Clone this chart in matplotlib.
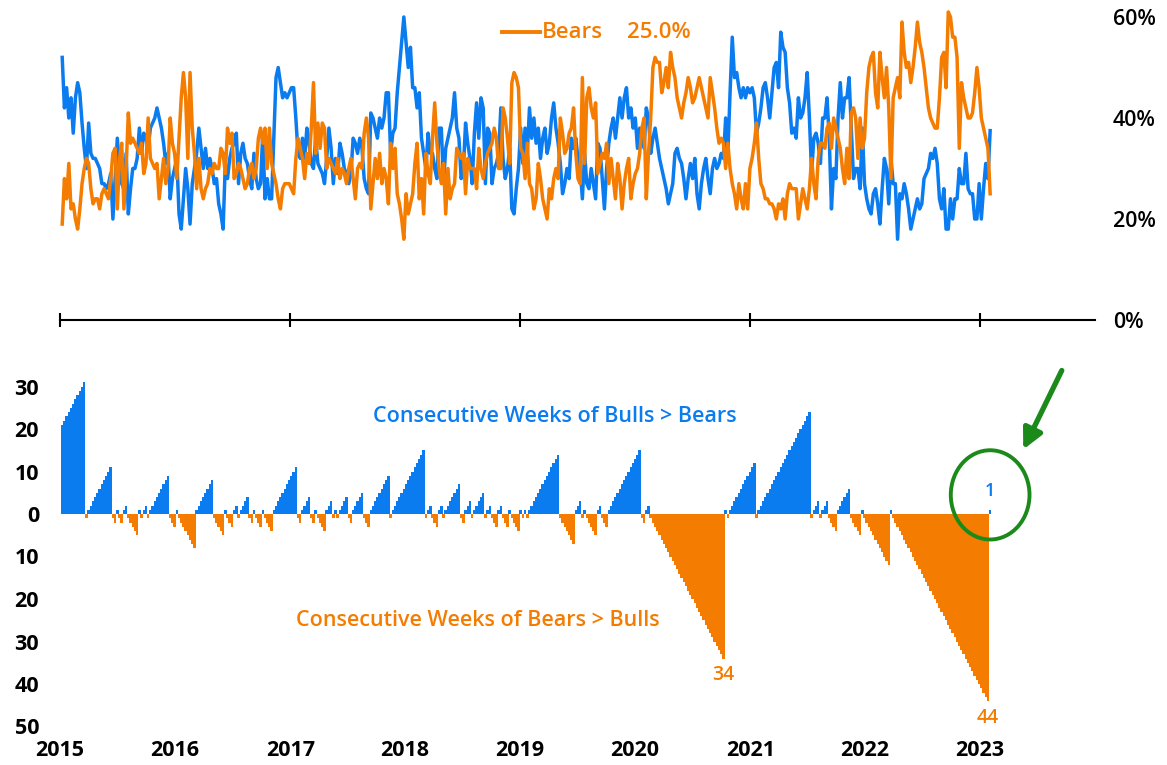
import datetime as dt
import numpy as np
import pandas as pd
import matplotlib
matplotlib.use("Agg")
import matplotlib.pyplot as plt
import matplotlib.dates as mdates
from matplotlib.lines import Line2D
from matplotlib.patches import Ellipse
from matplotlib.ticker import FuncFormatter

plt.rcParams['font.family'] = ['Open Sans', 'DejaVu Sans']

BLUE = '#0a7cf0'
ORANGE = '#f47c00'
GREEN = '#1b8a1b'

# AAII sentiment, weekly readings (%) from Jan 2015 to Feb 2023
bulls = [
    52, 42, 46, 40, 44, 37, 44, 47, 45, 39, 34, 30, 39, 33, 32, 32, 31, 30, 27, 27, 26, 27, 29, 20, 28, 36,
    30, 27, 26, 33, 21, 26, 30, 30, 32, 38, 33, 37, 36, 34, 38, 39, 40, 42, 40, 38, 35, 31, 33, 24, 28, 30,
    32, 21, 18, 24, 30, 26, 19, 27, 30, 33, 38, 34, 30, 34, 30, 32, 30, 27, 28, 23, 21, 18, 31, 28, 32, 34,
    35, 37, 27, 33, 35, 32, 31, 28, 26, 33, 28, 26, 27, 37, 24, 28, 24, 24, 36, 48, 50, 47, 44, 45, 44, 45,
    46, 46, 40, 33, 32, 36, 32, 38, 35, 31, 30, 36, 31, 30, 29, 27, 32, 38, 34, 27, 32, 29, 35, 33, 30, 29,
    27, 29, 36, 35, 33, 36, 34, 28, 26, 25, 41, 40, 38, 36, 40, 38, 40, 45, 45, 33, 37, 38, 45, 50, 55, 60,
    55, 50, 54, 46, 46, 42, 45, 36, 33, 30, 37, 33, 33, 30, 28, 38, 38, 27, 34, 36, 38, 40, 45, 38, 36, 28,
    30, 39, 35, 32, 27, 37, 43, 36, 44, 42, 27, 38, 37, 27, 30, 31, 33, 42, 32, 28, 30, 34, 22, 21, 26, 30,
    38, 31, 38, 33, 42, 36, 40, 35, 38, 32, 36, 38, 33, 35, 40, 43, 38, 35, 31, 25, 27, 30, 28, 36, 34, 36,
    32, 30, 24, 33, 27, 26, 30, 27, 24, 35, 34, 28, 22, 30, 35, 38, 40, 36, 40, 44, 40, 44, 46, 40, 42, 38,
    40, 34, 38, 36, 34, 42, 40, 33, 36, 38, 35, 32, 30, 28, 26, 23, 25, 27, 33, 34, 32, 31, 28, 24, 28, 31,
    28, 32, 25, 22, 27, 30, 32, 28, 25, 30, 32, 30, 31, 33, 32, 40, 33, 45, 56, 48, 49, 46, 44, 46, 44, 46,
    45, 46, 44, 37, 39, 42, 46, 47, 44, 40, 45, 50, 51, 46, 57, 54, 53, 46, 43, 37, 38, 36, 44, 40, 41, 44,
    49, 40, 29, 36, 37, 35, 31, 40, 40, 44, 36, 22, 30, 28, 40, 47, 40, 44, 44, 48, 38, 28, 30, 30, 26, 38,
    27, 24, 22, 21, 25, 26, 23, 19, 26, 32, 30, 23, 32, 27, 27, 16, 25, 24, 27, 25, 22, 18, 20, 22, 24, 22,
    23, 28, 29, 30, 33, 32, 34, 31, 24, 22, 26, 18, 18, 24, 20, 24, 24, 30, 27, 27, 33, 26, 25, 25, 20, 20,
    27, 20, 26, 31, 28, 37.5,
]
bears = [
    19, 28, 24, 31, 22, 23, 20, 18, 22, 27, 30, 32, 31, 26, 23, 24, 24, 22, 25, 26, 25, 24, 28, 33, 34, 22,
    32, 35, 22, 30, 41, 35, 36, 35, 34, 33, 35, 29, 31, 40, 32, 31, 30, 31, 24, 28, 32, 27, 30, 40, 35, 33,
    28, 36, 44, 49, 44, 32, 49, 38, 33, 26, 32, 26, 24, 26, 27, 30, 29, 31, 30, 30, 34, 33, 29, 38, 35, 37,
    28, 29, 31, 30, 28, 26, 27, 30, 31, 28, 30, 36, 38, 35, 38, 30, 38, 31, 29, 27, 24, 22, 26, 27, 27, 27,
    26, 25, 32, 36, 34, 32, 28, 33, 31, 38, 47, 33, 39, 34, 39, 38, 30, 32, 31, 30, 29, 32, 28, 30, 29, 27,
    30, 32, 28, 24, 30, 31, 30, 37, 40, 36, 22, 27, 32, 28, 33, 27, 30, 28, 23, 35, 30, 34, 25, 23, 20, 16,
    25, 21, 23, 25, 31, 35, 24, 28, 21, 33, 29, 27, 36, 43, 35, 30, 27, 31, 21, 30, 24, 26, 27, 34, 33, 32,
    33, 25, 32, 30, 30, 30, 26, 34, 30, 28, 31, 33, 34, 35, 38, 36, 30, 30, 42, 40, 36, 31, 47, 49, 48, 46,
    34, 33, 28, 35, 27, 26, 22, 24, 31, 28, 24, 22, 20, 26, 24, 28, 30, 28, 40, 37, 33, 34, 37, 38, 42, 33,
    28, 27, 48, 31, 44, 46, 42, 40, 43, 29, 31, 33, 32, 35, 27, 32, 28, 24, 31, 28, 22, 27, 30, 32, 24, 27,
    29, 30, 33, 38, 40, 24, 33, 40, 50, 52, 51, 51, 45, 47, 50, 46, 53, 50, 48, 44, 42, 40, 43, 45, 48, 46,
    43, 44, 46, 48, 46, 44, 42, 40, 48, 45, 42, 38, 35, 36, 35, 30, 35, 30, 27, 25, 22, 27, 24, 22, 27, 22,
    30, 32, 35, 39, 32, 27, 26, 24, 24, 23, 23, 22, 20, 23, 22, 24, 20, 25, 27, 26, 26, 26, 20, 23, 26, 24,
    22, 26, 32, 27, 24, 32, 35, 35, 34, 38, 39, 34, 40, 38, 36, 34, 30, 27, 34, 28, 41, 42, 40, 32, 40, 34,
    36, 45, 50, 52, 53, 45, 42, 53, 48, 44, 50, 42, 28, 44, 46, 48, 44, 59, 53, 50, 51, 47, 50, 54, 59, 55,
    53, 50, 46, 42, 40, 39, 38, 38, 44, 52, 53, 46, 61, 60, 56, 56, 52, 34, 47, 44, 42, 40, 40, 41, 45, 50,
    46, 40, 38, 36, 34, 25.0,
]
prior_streak = 20   # bulls > bears streak carried in from 2014

dates = pd.date_range('2015-01-08', periods=len(bulls), freq='7D')

# consecutive weeks of bulls > bears (positive) or bears > bulls (negative)
streak = []
s = prior_streak
for b, r in zip(bulls, bears):
    if b > r:
        s = s + 1 if s > 0 else 1
    else:
        s = s - 1 if s < 0 else -1
    streak.append(s)
streak = np.array(streak)

W, H = 1167, 765
fig = plt.figure(figsize=(W / 100, H / 100), dpi=100)
x0 = mdates.date2num(dt.date(2015, 1, 1))
x1 = mdates.date2num(dt.date(2024, 1, 1))

# ---- top: bulls / bears lines
ax1 = fig.add_axes([60 / W, (H - 320) / H, 1035 / W, 62 * 5.05 / H])
ax1.plot(dates, bulls, color=BLUE, lw=2.5, solid_joinstyle='round')
ax1.plot(dates, bears, color=ORANGE, lw=2.5, solid_joinstyle='round')
ax1.set_xlim(x0, x1)
ax1.set_ylim(0, 62)
for sp in ['top', 'left', 'right']:
    ax1.spines[sp].set_visible(False)
ax1.spines['bottom'].set_linewidth(1.5)
ax1.set_xticks([mdates.date2num(dt.date(y, 1, 1)) for y in range(2015, 2024, 2)])
ax1.tick_params(axis='x', direction='inout', length=10, width=1.5, labelbottom=False)
ax1.yaxis.tick_right()
ax1.set_yticks([0, 20, 40, 60])
ax1.set_yticklabels(['0%', '20%', '40%', '60%'])
ax1.tick_params(axis='y', length=0, pad=13, labelsize=15.5)
for lab in ax1.get_yticklabels():
    lab.set_fontweight('semibold')

# legend entry
fig.add_artist(Line2D([502 / W, 540 / W], [1 - 32 / H, 1 - 32 / H], transform=fig.transFigure,
                      color=ORANGE, lw=2.8))
fig.text(542 / W, 1 - 32 / H, 'Bears', color=ORANGE, fontsize=16, weight='semibold', va='center')
fig.text(627 / W, 1 - 32 / H, f'{bears[-1]:.1f}%', color=ORANGE, fontsize=16, weight='semibold', va='center')

# ---- bottom: streak bars
ax2 = fig.add_axes([60 / W, (H - 730.75) / H, 1035 / W, 84 * 4.25 / H])
colors = [BLUE if v > 0 else ORANGE for v in streak]
ax2.bar(dates, streak, width=7.8, color=colors, linewidth=0, align='center', antialiased=False)
ax2.set_xlim(x0, x1)
ax2.set_ylim(-51, 33)
for sp in ax2.spines.values():
    sp.set_visible(False)
ax2.set_yticks([30, 20, 10, 0, -10, -20, -30, -40, -50])
ax2.yaxis.set_major_formatter(FuncFormatter(lambda v, p: f'{abs(int(round(v)))}'))
ax2.set_xticks([mdates.date2num(dt.date(y, 1, 1)) for y in range(2015, 2024)])
ax2.xaxis.set_major_formatter(mdates.DateFormatter('%Y'))
ax2.tick_params(axis='y', length=0, pad=15, labelsize=15.5)
ax2.tick_params(axis='x', length=0, pad=7, labelsize=15.5)
for lab in ax2.get_xticklabels() + ax2.get_yticklabels():
    lab.set_fontweight('bold')

ax2.text(0.478, 0.879, 'Consecutive Weeks of Bulls > Bears', transform=ax2.transAxes,
         color=BLUE, fontsize=15.5, weight='semibold', ha='center', va='center')
ax2.text(0.404, 0.310, 'Consecutive Weeks of Bears > Bulls', transform=ax2.transAxes,
         color=ORANGE, fontsize=15.5, weight='semibold', ha='center', va='center')

# label the long bearish streaks
for i in range(len(streak) - 1):
    if streak[i] <= -30 and streak[i + 1] > streak[i]:
        ax2.text(dates[i], streak[i] - 4, f'{-streak[i]}', color=ORANGE, fontsize=14,
                 weight='semibold', ha='center', va='center')

# latest reading, circled
last_x = mdates.date2num(dates[-1])
ax2.text(last_x, streak[-1] + 4.5, f'{streak[-1]}', color=BLUE, fontsize=13,
         weight='semibold', ha='center', va='center')
ax2.add_patch(Ellipse((last_x, streak[-1] + 3.5), width=250, height=21, fill=False,
                      edgecolor=GREEN, lw=2.8, clip_on=False))
ax2.annotate('', xy=(1022, H - 452), xycoords='figure pixels', xytext=(1063, H - 368),
             textcoords='figure pixels',
             arrowprops=dict(arrowstyle='-|>', color=GREEN, lw=3.8, mutation_scale=30))

fig.savefig('out.png', dpi=100)
